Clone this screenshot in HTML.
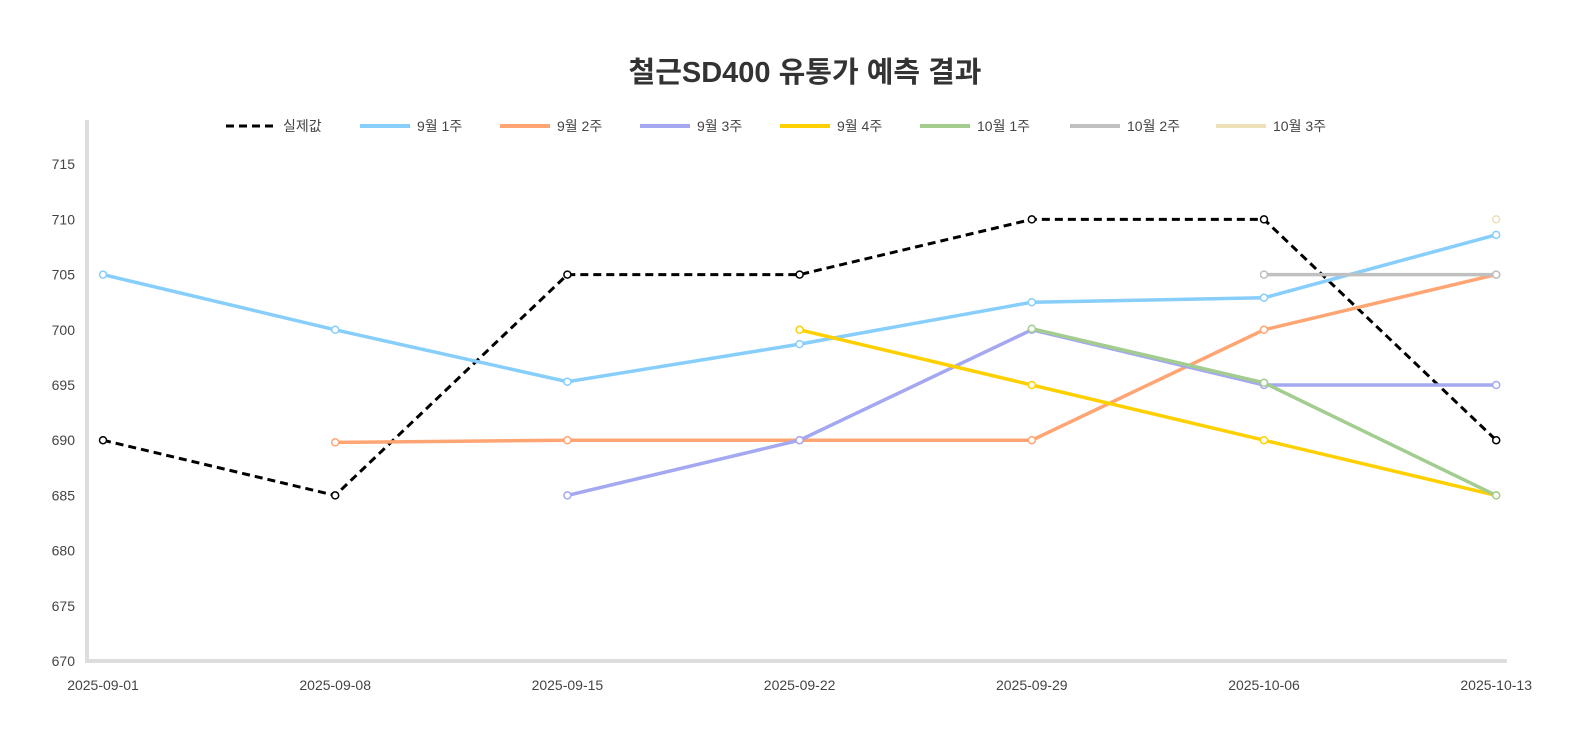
<!DOCTYPE html>
<html><head><meta charset="utf-8"><style>
body{margin:0;background:#fff;}
svg text{font-family:"Liberation Sans","Noto Sans CJK KR",sans-serif;}
</style></head><body>
<svg id="chart" width="1574" height="745" xmlns="http://www.w3.org/2000/svg">
<rect width="1574" height="745" fill="#fff"/>
<text x="805" y="82" text-anchor="middle" font-size="29" font-weight="bold" fill="#333">철근SD400 유통가 예측 결과</text>
<g id="grid"></g><g id="series"></g><g id="legend"></g>
</svg>
<script>
const categories=["2025-09-01","2025-09-08","2025-09-15","2025-09-22","2025-09-29","2025-10-06","2025-10-13"];
const yTicks=[670,675,680,685,690,695,700,705,710,715];
const seriesNames=["실제값","9월 1주","9월 2주","9월 3주","9월 4주","10월 1주","10월 2주","10월 3주"];
const seriesColors=["#000","#87CEFA","#FFA574","#A3A8F0","#FFD000","#A3CC8F","#C0C0C0","#EEE0B8"];
const actual=[690,685,705,705,710,710,690];
const sep1=[705,700,695.3,698.7,702.5,702.9,708.6];
const sep2=[null,689.8,690,690,690,700,705];
const sep3=[null,null,685,690,700,695,695];
const sep4=[null,null,null,700,695,690,685];
const oct1=[null,null,null,null,700.1,695.2,685];
const oct2=[null,null,null,null,null,705,705];
const oct3=[null,null,null,null,null,null,710];
const allSeries=[actual,sep1,sep2,sep3,sep4,oct1,oct2,oct3];
const NS="http://www.w3.org/2000/svg";
const x=i=>103+i*232.2;
const y=v=>661-(v-670)*11.04;
function mk(t,a,p){const e=document.createElementNS(NS,t);for(const k in a)e.setAttribute(k,a[k]);p.appendChild(e);return e;}
const grid=document.getElementById('grid');
const ax=mk('line',{x1:87,y1:120,x2:87,y2:661,stroke:'#ddd','stroke-width':4},grid);


const bx=mk('line',{x1:85,y1:661,x2:1507,y2:661,stroke:'#ddd','stroke-width':4},grid);


yTicks.forEach(v=>{const t=mk('text',{x:75,y:y(v)+5,'text-anchor':'end','font-size':14,fill:'#444'},grid);t.textContent=v;

});
categories.forEach((c,i)=>{const t=mk('text',{x:x(i),y:690,'text-anchor':'middle','font-size':14,fill:'#444'},grid);t.textContent=c;

});
const sg=document.getElementById('series');
allSeries.forEach((s,k)=>{
 const pts=[];s.forEach((v,i)=>{if(v!=null)pts.push([x(i),y(v)]);});
 if(pts.length>1){const p=mk('polyline',{points:pts.map(p=>p.join(',')).join(' '),fill:'none',stroke:seriesColors[k],'stroke-width':k==0?3:3.5},sg);
 if(k==0)p.setAttribute('stroke-dasharray','8,5');
 
 }
 pts.forEach(q=>{const c=mk('circle',{cx:q[0],cy:q[1],r:3.5,fill:'#fff',stroke:seriesColors[k],'stroke-width':1.5},sg);
 
 });
});
const lg=document.getElementById('legend');
const lx=[226,360,500,640,780,920,1070,1216];
seriesNames.forEach((n,k)=>{
 const l=mk('line',{x1:lx[k],y1:126,x2:lx[k]+50,y2:126,stroke:seriesColors[k],'stroke-width':k==0?3:4},lg);
 if(k==0)l.setAttribute('stroke-dasharray','8,5');
 
 
 const t=mk('text',{x:lx[k]+57,y:131,'font-size':14,fill:'#444'},lg);t.textContent=n;
 
 
});
</script>
</body></html>
